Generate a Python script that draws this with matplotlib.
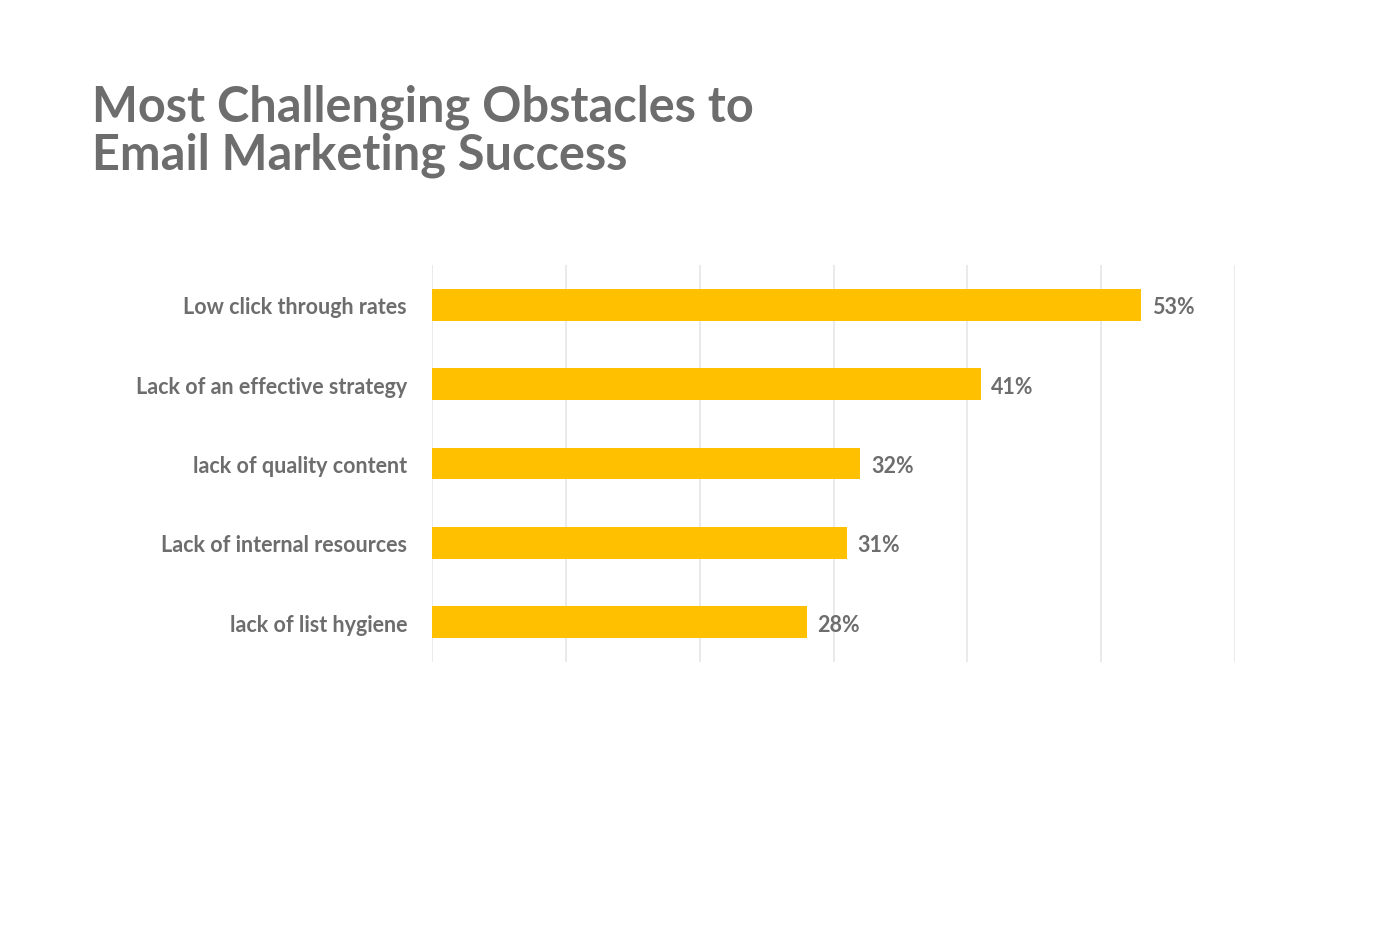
import matplotlib.pyplot as plt
import numpy as np

plt.rcParams['font.family'] = ['Lato', 'DejaVu Sans']

categories = ['Low click through rates', 'Lack of an effective strategy',
              'lack of quality content', 'Lack of internal resources',
              'lack of list hygiene']
values = [53, 41, 32, 31, 28]

gray = '#6d6d6d'
bar_color = '#ffc000'

fig = plt.figure(figsize=(13.81, 9.29), dpi=100)
ax = fig.add_axes([432/1381, 266/929, 803/1381, 397/929])

y = np.arange(len(categories))
ax.barh(y, values, height=0.4, color=bar_color, zorder=2)
ax.set_ylim(len(categories) - 0.5, -0.5)
ax.set_xlim(0, 60)
ax.set_xticks(np.arange(0, 61, 10))
ax.xaxis.grid(True, color='#e6e6e6', linewidth=1.2, zorder=0)
ax.tick_params(axis='x', length=0, labelbottom=False)
ax.tick_params(axis='y', length=0, pad=18)
ax.set_yticks(y)
ax.set_yticklabels(categories, fontsize=15.5, color=gray, fontweight='bold',
                   va='center_baseline')
for s in ['top', 'right', 'bottom', 'left']:
    ax.spines[s].set_visible(False)

for yi, v in zip(y, values):
    ax.text(v + 0.8, yi, f'{v}%', va='center_baseline', ha='left', fontsize=15.5,
            color=gray, fontweight='bold')

fig.text(92/1381, 1 - 84/929, 'Most Challenging Obstacles to\nEmail Marketing Success',
         fontsize=35, fontweight='bold', color=gray, va='top', ha='left',
         linespacing=1.08)

fig.savefig('out.png', dpi=100)
